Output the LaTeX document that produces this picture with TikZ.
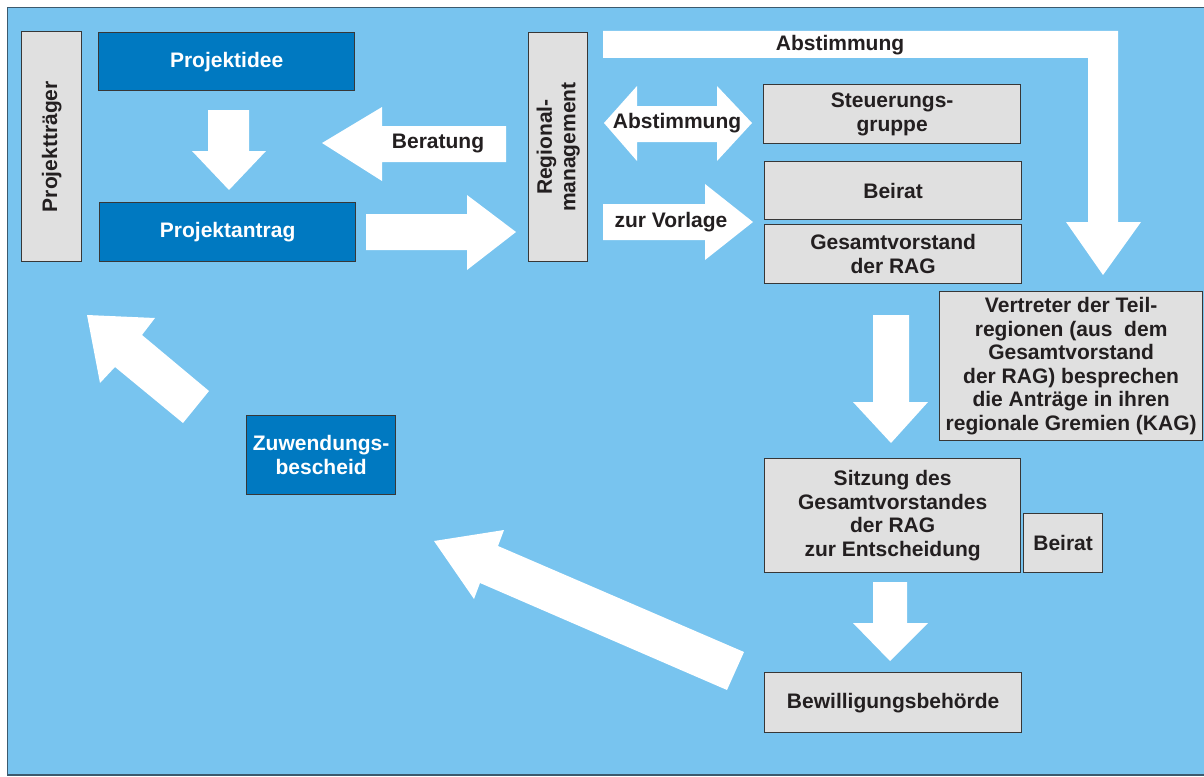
\documentclass[tikz,border=0pt]{standalone}
\usepackage{fontspec}
\setmainfont{Liberation Sans}
\definecolor{bg}{RGB}{120,196,239}
\definecolor{frameline}{RGB}{60,90,110}
\definecolor{darkblue}{RGB}{0,121,193}
\definecolor{boxgray}{RGB}{224,224,224}
\definecolor{boxline}{RGB}{55,55,55}
\definecolor{txt}{RGB}{35,31,32}
\begin{document}
\begin{tikzpicture}[x=1pt,y=-1pt,
  lbl/.style={font=\fontsize{21}{23.5}\selectfont\bfseries, text=txt, align=center, inner sep=0pt},
  graybox/.style={draw=boxline, fill=boxgray, line width=1.3pt, anchor=north west, inner sep=0pt,
                  font=\fontsize{21}{23.5}\selectfont\bfseries, text=txt, align=center},
  bluebox/.style={graybox, fill=darkblue, text=white},
  blockarrow/.style={fill=white, draw=none}]
\useasboundingbox (0,0) rectangle (1204,776);
\fill[white] (0,0) rectangle (1204,776);
\draw[fill=bg, draw=frameline, line width=1.5pt] (7.5,7.5) rectangle (1215,775);

% boxes
\node[graybox, minimum width=60pt, minimum height=230pt] (traeger) at (21,31) {};
\node[lbl, rotate=90] (traegertext) at (traeger.center) {Projektträger};
\node[bluebox, minimum width=256pt, minimum height=58pt] (idee) at (98,32) {Projektidee};
\node[bluebox, minimum width=256pt, minimum height=59pt] (antrag) at (99,202) {Projektantrag};
\node[graybox, minimum width=59pt, minimum height=229pt] (regman) at (528,32) {};
\node[lbl, rotate=90] (regmantext) at (regman.center) {Regional-\\management};
\node[graybox, minimum width=257pt, minimum height=59pt] (steuer) at (763,84) {Steuerungs-\\gruppe};
\node[graybox, minimum width=257pt, minimum height=58pt] (beirat) at (764,161) {Beirat};
\node[graybox, minimum width=257pt, minimum height=59pt] (gesamt) at (764,224) {Gesamtvorstand\\der RAG};
\node[graybox, minimum width=263pt, minimum height=149pt] (vertreter) at (939,291)
  {Vertreter der Teil-\\regionen (aus\ \ dem\\Gesamtvorstand\\der RAG) besprechen\\die Anträge in ihren\\regionale Gremien (KAG)};
\node[graybox, minimum width=256pt, minimum height=114pt] (sitzung) at (764,458)
  {Sitzung des\\Gesamtvorstandes\\der RAG\\zur Entscheidung};
\node[graybox, minimum width=79pt, minimum height=59pt] (beirat2) at (1023,513) {Beirat};
\node[graybox, minimum width=257pt, minimum height=60pt] (bewill) at (764,672) {Bewilligungsbehörde};
\node[bluebox, minimum width=149pt, minimum height=79pt] (zuwend) at (246,415) {Zuwendungs-\\bescheid};

% block arrows
\fill[blockarrow] (208,110) -- (249,110) -- (249,151) -- (266,151) -- (229,190) -- (192,151) -- (208,151) -- cycle;
\fill[blockarrow] (506,126) -- (382,126) -- (382,107) -- (322,143) -- (382,181) -- (382,162) -- (506,162) -- cycle;
\fill[blockarrow] (366,214) -- (467,214) -- (467,195) -- (516,232) -- (467,270) -- (467,250) -- (366,250) -- cycle;
\fill[blockarrow] (603,31) -- (1118,31) -- (1118,222) -- (1141,222) -- (1103,275) -- (1066,222) -- (1088,222) -- (1088,58) -- (603,58) -- cycle;
\fill[blockarrow] (604,123) -- (637,86) -- (637,106) -- (717,106) -- (717,86) -- (752,123) -- (717,161) -- (717,142) -- (637,142) -- (637,161) -- cycle;
\fill[blockarrow] (603,204) -- (705,204) -- (705,184) -- (753,222) -- (705,260) -- (705,240) -- (603,240) -- cycle;
\fill[blockarrow] (873,315) -- (909,315) -- (909,402) -- (928,402) -- (891,443) -- (853,402) -- (873,402) -- cycle;
\fill[blockarrow] (873,582) -- (907,582) -- (907,623) -- (928,623) -- (890,661) -- (853,623) -- (873,623) -- cycle;
\fill[blockarrow] (434,541) -- (504,530) -- (498,546) -- (744,652) -- (727,690) -- (480,583) -- (474,599) -- cycle;
\fill[blockarrow] (87,315) -- (155,318) -- (142,335) -- (209,391) -- (183,423) -- (115,367) -- (100,383) -- cycle;

% arrow labels
\node[lbl] (beratung) at (438,144) {Beratung};
\node[lbl] (abst1) at (840,45) {Abstimmung};
\node[lbl] (abst2) at (677,123) {Abstimmung};
\node[lbl] (vorlage) at (671,222) {zur Vorlage};
\end{tikzpicture}
\end{document}
